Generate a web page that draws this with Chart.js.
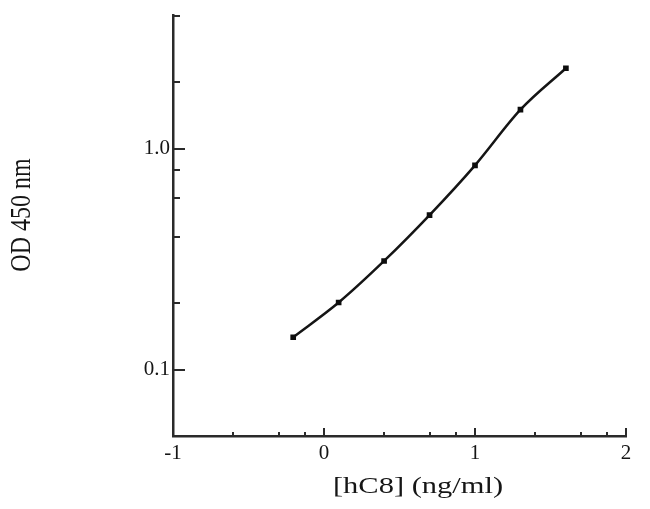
<!DOCTYPE html>
<html>
<head>
<meta charset="utf-8">
<script src="https://cdn.jsdelivr.net/npm/chart.js@4.4.1/dist/chart.umd.min.js"></script>
<style>
  html, body { margin: 0; padding: 0; background: #ffffff; }
  #chart_box { width: 650px; height: 509px; }
</style>
</head>
<body>
<div id="chart_box"><canvas id="od_canvas" width="650" height="509"></canvas></div>
<script>

// log10 of hC8 concentration (ng/ml) and measured OD 450 nm
var log_conc = [-0.204, 0.097, 0.398, 0.699, 1.0, 1.301, 1.602];
var od_values = [0.140, 0.201, 0.310, 0.500, 0.840, 1.50, 2.31];

var x_major_ticks = [-1, 0, 1, 2];
var x_major_labels = ['-1', '0', '1', '2'];
var x_minor_ticks = [-0.602, -0.301, -0.125, 0.398, 0.699, 0.875, 1.398, 1.699, 1.875];

var y_major_ticks = [0.1, 1.0];
var y_major_labels = ['0.1', '1.0'];
var y_minor_ticks = [0.2, 0.4, 0.6, 0.8, 2, 4];

var x_title = '[hC8] (ng/ml)';
var y_title = 'OD 450 nm';

var axis_color = '#2a2a2a';
var text_color = '#151515';
var serif_font = '"Liberation Serif", "DejaVu Serif", serif';

var points = [];
for (var i = 0; i < log_conc.length; i++)
{
  points[i] = { x: log_conc[i], y: od_values[i] };
}

/*
* inward tick marks and stretched axis titles
*/
var axis_decor = {
  id: 'axis_decor',
  afterDraw: function(chart)
  {
    var ctx = chart.ctx;
    var area = chart.chartArea;
    var x_scale = chart.scales.x;
    var y_scale = chart.scales.y;

    ctx.save();
    ctx.strokeStyle = axis_color;
    ctx.lineWidth = 2;
    ctx.beginPath();

    var tick_x = function(values, len)
    {
      values.forEach(function(v) {
        var px = Math.round(x_scale.getPixelForValue(v));
        ctx.moveTo(px, area.bottom);
        ctx.lineTo(px, area.bottom - len);
      });
    };

    var tick_y = function(values, len)
    {
      values.forEach(function(v) {
        var py = Math.round(y_scale.getPixelForValue(v));
        ctx.moveTo(area.left, py);
        ctx.lineTo(area.left + len, py);
      });
    };

    tick_x(x_major_ticks, 8);
    tick_x(x_minor_ticks, 4);
    tick_y(y_major_ticks, 12);
    tick_y(y_minor_ticks, 7);
    ctx.stroke();

    ctx.fillStyle = text_color;
    ctx.font = '24px ' + serif_font;
    ctx.textAlign = 'center';
    ctx.textBaseline = 'middle';

    ctx.save();
    ctx.translate(418, 487);
    ctx.scale(1.27, 1);
    ctx.fillText(x_title, 0, 0);
    ctx.restore();

    ctx.save();
    ctx.translate(22, 215);
    ctx.scale(1.27, 1);
    ctx.rotate(-Math.PI / 2);
    ctx.fillText(y_title, 0, 0);
    ctx.restore();

    ctx.restore();
  }
};

var tick_font = { family: serif_font, size: 21 };

new Chart(document.getElementById('od_canvas').getContext('2d'), {
  type: 'line',
  data: {
    datasets: [
      {
        label: 'OD 450 nm',
        data: points,
        borderColor: '#151515',
        backgroundColor: '#0d0d0d',
        borderWidth: 2.5,
        pointStyle: 'rect',
        pointRadius: 4,
        pointBorderWidth: 0,
        cubicInterpolationMode: 'monotone',
        fill: false
      }]
  },
  options: {
    responsive: false,
    animation: false,
    devicePixelRatio: 1,
    layout: { padding: { top: 15, right: 24, left: 0, bottom: 0 } },
    plugins: {
      legend: { display: false },
      tooltip: { enabled: false }
    },
    scales: {
      x: {
        type: 'linear',
        position: 'bottom',
        min: -1,
        max: 2,
        afterBuildTicks: function(scale) {
          scale.ticks = x_major_ticks.map(function(v) { return { value: v }; });
        },
        afterFit: function(scale) { scale.height = 73; },
        ticks: {
          autoSkip: false,
          maxRotation: 0,
          padding: 5,
          color: text_color,
          font: tick_font,
          callback: function(value) {
            var k = x_major_ticks.indexOf(value);
            return k < 0 ? '' : x_major_labels[k];
          }
        },
        grid: { display: false, drawTicks: false },
        border: { display: true, color: axis_color, width: 2.5 }
      },
      y: {
        type: 'logarithmic',
        position: 'left',
        min: 0.05,
        max: 4,
        afterBuildTicks: function(scale) {
          scale.ticks = y_major_ticks.map(function(v) { return { value: v }; });
        },
        afterFit: function(scale) { scale.width = 173; },
        ticks: {
          autoSkip: false,
          padding: 3,
          color: text_color,
          font: tick_font,
          callback: function(value) {
            var k = y_major_ticks.indexOf(value);
            return k < 0 ? '' : y_major_labels[k];
          }
        },
        grid: { display: false, drawTicks: false },
        border: { display: true, color: axis_color, width: 2.5 }
      }
    }
  },
  plugins: [axis_decor]
});

</script>
</body>
</html>
